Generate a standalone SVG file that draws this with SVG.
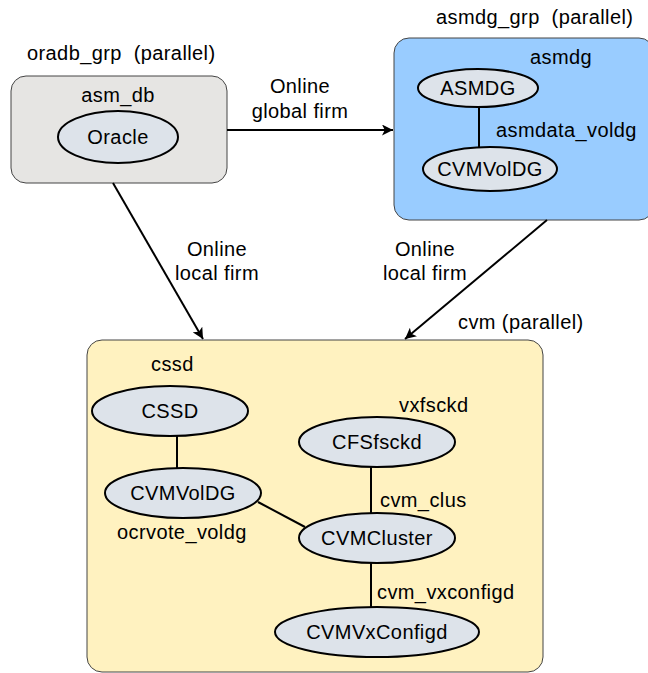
<svg xmlns="http://www.w3.org/2000/svg" width="648" height="673" viewBox="0 0 648 673">
<defs>
<style>
text{font-family:"Liberation Sans",Arial,sans-serif;font-size:20px;letter-spacing:0.4px;fill:#000}
.c{text-anchor:middle}
.grp{stroke:#444;stroke-width:1}
.el{fill:#dde3ea;stroke:#000;stroke-width:2}
.ln{stroke:#000;stroke-width:2;fill:none}
.ar{stroke:#000;stroke-width:2;fill:none;marker-end:url(#ah)}
</style>
<marker id="ah" viewBox="0 0 10 10" refX="10" refY="5" markerWidth="11" markerHeight="11" markerUnits="userSpaceOnUse" orient="auto"><path d="M0,0 L10,5 L0,10 L2.5,5 z" fill="#000"/></marker>
</defs>
<g id="oradb_grp">
<text x="27" y="60">oradb_grp&#160; (parallel)</text>
<rect class="grp" x="11" y="76" width="216" height="107" rx="15" fill="#e6e5e3"/>
<text class="c" x="118" y="102">asm_db</text>
</g>
<g id="Oracle"><ellipse class="el" cx="118" cy="137" rx="60" ry="26"/><text class="c" x="118" y="144">Oracle</text></g>
<g id="asmdg_grp">
<text x="436" y="24">asmdg_grp&#160; (parallel)</text>
<rect class="grp" x="394" y="38" width="260" height="182" rx="15" fill="#99ccff"/>
<text x="530" y="64">asmdg</text>
<text x="496" y="137">asmdata_voldg</text>
</g>
<g id="ASMDG"><ellipse class="el" cx="478" cy="88" rx="60" ry="19"/><text class="c" x="478" y="95">ASMDG</text></g>
<g id="CVMVolDG_asm"><ellipse class="el" cx="490" cy="169" rx="67" ry="22"/><text class="c" x="490" y="176">CVMVolDG</text></g>
<g id="cvm">
<text x="458" y="329">cvm (parallel)</text>
<rect class="grp" x="87" y="340" width="456" height="332" rx="15" fill="#fff2c0"/>
<text x="151" y="371">cssd</text>
<text x="399" y="412">vxfsckd</text>
<text x="117" y="539">ocrvote_voldg</text>
<text x="380" y="507">cvm_clus</text>
<text x="377" y="599">cvm_vxconfigd</text>
</g>
<g id="CSSD"><ellipse class="el" cx="170" cy="411" rx="78" ry="25"/><text class="c" x="170" y="418">CSSD</text></g>
<g id="CVMVolDG_cvm"><ellipse class="el" cx="183" cy="493" rx="78" ry="25"/><text class="c" x="183" y="500">CVMVolDG</text></g>
<g id="CFSfsckd"><ellipse class="el" cx="377" cy="442" rx="78" ry="25"/><text class="c" x="377" y="449">CFSfsckd</text></g>
<g id="CVMCluster"><ellipse class="el" cx="377" cy="538" rx="78" ry="25"/><text class="c" x="377" y="545">CVMCluster</text></g>
<g id="CVMVxConfigd"><ellipse class="el" cx="377" cy="632" rx="102" ry="25"/><text class="c" x="377" y="639">CVMVxConfigd</text></g>
<g id="connectors">
<line class="ar" x1="227" y1="130" x2="393" y2="130"/>
<text class="c" x="300" y="93">Online</text>
<text class="c" x="300" y="118">global firm</text>
<line class="ar" x1="113" y1="183" x2="203" y2="339"/>
<text class="c" x="217" y="256">Online</text>
<text class="c" x="217" y="280">local firm</text>
<line class="ar" x1="547" y1="220" x2="405" y2="339"/>
<text class="c" x="425" y="256">Online</text>
<text class="c" x="425" y="280">local firm</text>
<line class="ln" x1="479" y1="107" x2="479" y2="147"/>
<line class="ln" x1="177" y1="436" x2="177" y2="468"/>
<line class="ln" x1="258" y1="502" x2="305" y2="527"/>
<line class="ln" x1="371" y1="467" x2="371" y2="513"/>
<line class="ln" x1="371" y1="563" x2="371" y2="607"/>
</g>
</svg>
